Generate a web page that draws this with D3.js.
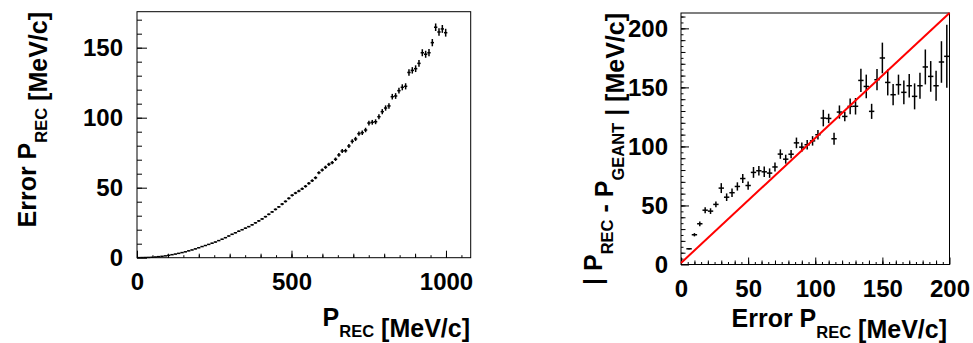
<!DOCTYPE html>
<html><head><meta charset="utf-8">
<script src="https://cdn.jsdelivr.net/npm/d3@7"></script>
<style>
body{margin:0;background:#fff}
svg{display:block}
text{font-family:"Liberation Sans",Arial,Helvetica,sans-serif;font-weight:bold;fill:#000}
</style>
</head><body>
<svg id="chart" width="973" height="343"></svg>
<script>
// ---------- Left panel: Error P_REC vs P_REC ----------
const leftBinWidth = 10.8;
const leftX = [5.4,16.2,27,37.8,48.6,59.4,70.2,81,91.8,102.6,113.4,124.2,135,145.8,156.6,167.4,178.2,189,199.8,210.6,
  221.4,232.2,243,253.8,264.6,275.4,286.2,297,307.8,318.6,329.4,340.2,351,361.8,372.6,383.4,394.2,405,415.8,426.6,
  437.4,448.2,459,469.8,480.6,491.4,502.2,513,523.8,534.6,545.4,556.2,567,577.8,588.6,599.4,610.2,621,631.8,642.6,
  653.4,664.2,675,685.8,696.6,707.4,718.2,729,739.8,750.6,761.4,772.2,783,793.8,804.6,815.4,826.2,837,847.8,858.6,
  869.4,880.2,891,901.8,912.6,923.4,934.2,945,955.8,966.6,977.4,988.2,999];
const leftY = [0.05,0.1,0.15,0.2,0.3,0.5,0.75,1.0,1.3,1.7,
  2.15,2.6,3.1,3.65,4.2,4.9,5.55,6.3,7.1,7.95,
  8.7,9.5,10.35,11.2,12.2,13.2,14.3,15.5,16.7,17.8,
  18.9,20.0,21.1,22.2,23.5,24.9,26.3,27.7,29.3,31.0,
  32.7,34.5,36.3,38.3,40.2,42.4,44.6,46.2,47.6,49.2,
  51.0,53.1,55.0,57.1,60.7,62.6,64.6,66.7,67.9,70.3,
  73.4,76.2,76.4,79.8,83.1,84.8,88.6,89.3,91.2,96.2,
  96.7,97.1,100.7,104.3,106.9,108.4,115.0,115.5,119.3,121.7,
  122.4,132.3,133.8,135.0,138.8,146.4,145.3,146.4,153.6,164.6,
  161.2,163.4,160.7];
const leftErr = [0.05,0.05,0.05,0.05,0.1,0.1,0.1,0.1,0.1,0.15,
  0.15,0.15,0.15,0.2,0.2,0.2,0.2,0.25,0.25,0.25,
  0.3,0.3,0.3,0.3,0.35,0.35,0.35,0.4,0.4,0.4,
  0.45,0.45,0.45,0.5,0.5,0.5,0.55,0.55,0.6,0.6,
  0.65,0.7,0.7,0.75,0.75,0.8,0.8,0.85,0.9,0.9,
  0.95,1.0,1.0,1.05,1.1,1.1,1.15,1.2,1.2,1.25,
  1.3,1.35,1.35,1.4,1.45,1.5,1.55,1.6,1.6,1.7,
  1.7,1.75,1.8,1.85,1.9,1.95,2.0,2.05,2.1,2.15,
  2.2,2.3,2.3,2.4,2.4,2.5,2.5,2.6,2.6,2.7,
  2.7,2.8,2.8];
const leftXTicks = [0, 500, 1000];
const leftYTicks = [0, 50, 100, 150];

// ---------- Right panel: |P_REC - P_GEANT| vs Error P_REC ----------
const rightBinWidth = 4;
const rightX = [6,10,14,18,22,26,30,34,38,42,46,50,54,58,62,66,70,74,78,82,86,90,94,98,102,
  106,110,114,118,122,126,130,134,138,142,146,150,154,158,162,166,170,174,178,182,186,190,194,198];
const rightY = [13.3,25.2,34.5,46.0,45.2,50.9,64.7,57.0,60.8,66.1,72.8,66.9,78.0,79.4,78.5,77.4,82.6,93.5,89.2,93.4,
  103.0,99.4,101.4,104.7,109.9,124.0,123.7,106.5,129.1,125.4,133.9,134.0,155.9,150.8,129.7,156.5,174.9,154.2,143.8,152.3,
  145.8,151.4,142.4,151.4,167.3,159.3,151.4,171.5,176.3];
const rightErr = [0.6,1.4,2.0,2.5,2.4,2.4,4.2,3.2,3.6,3.5,3.8,3.5,4.6,4.0,4.5,4.0,3.8,4.0,3.8,3.5,
  4.5,4.0,4.0,4.0,4.0,7.0,4.0,5.0,5.6,4.0,6.6,7.0,9.9,10.0,6.4,9.0,13.0,11.0,9.0,8.5,
  10.0,10.0,11.0,11.0,14.8,13.0,12.7,17.6,26.7];
const diagX = [0, 200];
const diagY = [1.3, 213];
const rightXTicks = [0, 50, 100, 150, 200];
const rightYTicks = [0, 50, 100, 150, 200];

const svg = d3.select("#chart");
const FS = 24;

function panel(cfg){
  const g = svg.append("g");
  const x = d3.scaleLinear().domain(cfg.xDomain).range(cfg.xRange);
  const y = d3.scaleLinear().domain(cfg.yDomain).range(cfg.yRange);
  const x0 = cfg.xRange[0], x1 = cfg.xRange[1], y0 = cfg.yRange[0], y1 = cfg.yRange[1];

  const minor = (axis, pos, ticks, size) => {
    const a = g.append("g").attr("transform", pos)
      .call(axis.tickValues(ticks).tickSize(-size).tickSizeOuter(0).tickFormat(""));
    a.select(".domain").remove();
    a.selectAll("line").attr("stroke","#000").attr("stroke-width",1);
  };
  cfg.xMinor.forEach(m => minor(d3.axisBottom(x), `translate(0,${y0})`, m.ticks, m.size));
  cfg.yMinor.forEach(m => minor(d3.axisLeft(y), `translate(${x0},0)`, m.ticks, m.size));

  const ax = g.append("g").attr("transform", `translate(0,${y0})`)
    .call(d3.axisBottom(x).tickValues(cfg.xTicks).tickSize(-cfg.xMajor).tickSizeOuter(0).tickPadding(cfg.xPad).tickFormat(d3.format("d")));
  const ay = g.append("g").attr("transform", `translate(${x0},0)`)
    .call(d3.axisLeft(y).tickValues(cfg.yTicks).tickSize(-cfg.yMajor).tickSizeOuter(0).tickPadding(cfg.yPad).tickFormat(d3.format("d")));
  [ax, ay].forEach(a => {
    a.select(".domain").remove();
    a.attr("font-family", null).attr("font-size", null);
    a.selectAll("line").attr("stroke","#000").attr("stroke-width",1);
    a.selectAll("text").style("font-size", FS+"px").attr("fill","#000");
  });

  g.append("rect").attr("x", x0).attr("y", y1).attr("width", x1-x0).attr("height", y0-y1)
    .attr("fill","none").attr("stroke","#000").attr("stroke-width",1);

  const pts = g.append("g").attr("stroke","#000").attr("stroke-width",1.5);
  cfg.xs.forEach((xv,i) => {
    const yv = cfg.ys[i], e = cfg.es[i], hw = cfg.bw/2;
    pts.append("line").attr("x1", x(xv-hw)).attr("x2", x(xv+hw)).attr("y1", y(yv)).attr("y2", y(yv));
    pts.append("line").attr("x1", x(xv)).attr("x2", x(xv)).attr("y1", y(yv-e)).attr("y2", y(yv+e));
  });

  if (cfg.line) {
    g.append("path").datum(cfg.line.xs.map((d,i)=>[d, cfg.line.ys[i]]))
      .attr("d", d3.line().x(d=>x(d[0])).y(d=>y(d[1])))
      .attr("stroke","#ff0000").attr("stroke-width",2).attr("fill","none");
  }
  return {g, x, y};
}

function title(sel, parts){
  const t = sel.append("text").style("font-size","25px");
  parts.forEach(p => {
    if (p.sub) {
      t.append("tspan").text(p.sub).style("font-size","16.5px").attr("dy", 11);
      t.append("tspan").text("").attr("dy", -11);
    } else {
      t.append("tspan").text(p.t);
    }
  });
  return t;
}

const L = panel({
  xDomain:[0,1080], xRange:[137,470.7], yDomain:[0,175.7], yRange:[257.7,11.7],
  xTicks:leftXTicks, yTicks:leftYTicks, xMajor:7, yMajor:10, xPad:15, yPad:14,
  xMinor:[{ticks:d3.range(50,1080,50), size:2.5},{ticks:d3.range(100,1080,100), size:4}],
  yMinor:[{ticks:d3.range(10,176,10), size:5}],
  xs:leftX, ys:leftY, es:leftErr, bw:leftBinWidth
});
const R = panel({
  xDomain:[0,200], xRange:[681,949.5], yDomain:[0,213], yRange:[264.5,13],
  xTicks:rightXTicks, yTicks:rightYTicks, xMajor:7, yMajor:8, xPad:15, yPad:13,
  xMinor:[{ticks:d3.range(5,200,5), size:2.5},{ticks:d3.range(10,200,10), size:4}],
  yMinor:[{ticks:d3.range(5,213,5), size:2.5},{ticks:d3.range(10,213,10), size:4.5}],
  xs:rightX, ys:rightY, es:rightErr, bw:rightBinWidth,
  line:{xs:diagX, ys:diagY}
});

title(svg.append("g").attr("transform","translate(470,326)"), [{t:"P"},{sub:"REC"},{t:" [MeV/c]"}])
  .attr("text-anchor","end");
title(svg.append("g").attr("transform","translate(36,12) rotate(-90)"), [{t:"Error P"},{sub:"REC"},{t:" [MeV/c]"}])
  .attr("text-anchor","end");
title(svg.append("g").attr("transform","translate(947,327)"), [{t:"Error P"},{sub:"REC"},{t:" [MeV/c]"}])
  .attr("text-anchor","end");
title(svg.append("g").attr("transform","translate(602,13) rotate(-90)"),
  [{t:"| P"},{sub:"REC"},{t:" - P"},{sub:"GEANT"},{t:" | [MeV/c]"}])
  .attr("text-anchor","end");
</script>
</body></html>
